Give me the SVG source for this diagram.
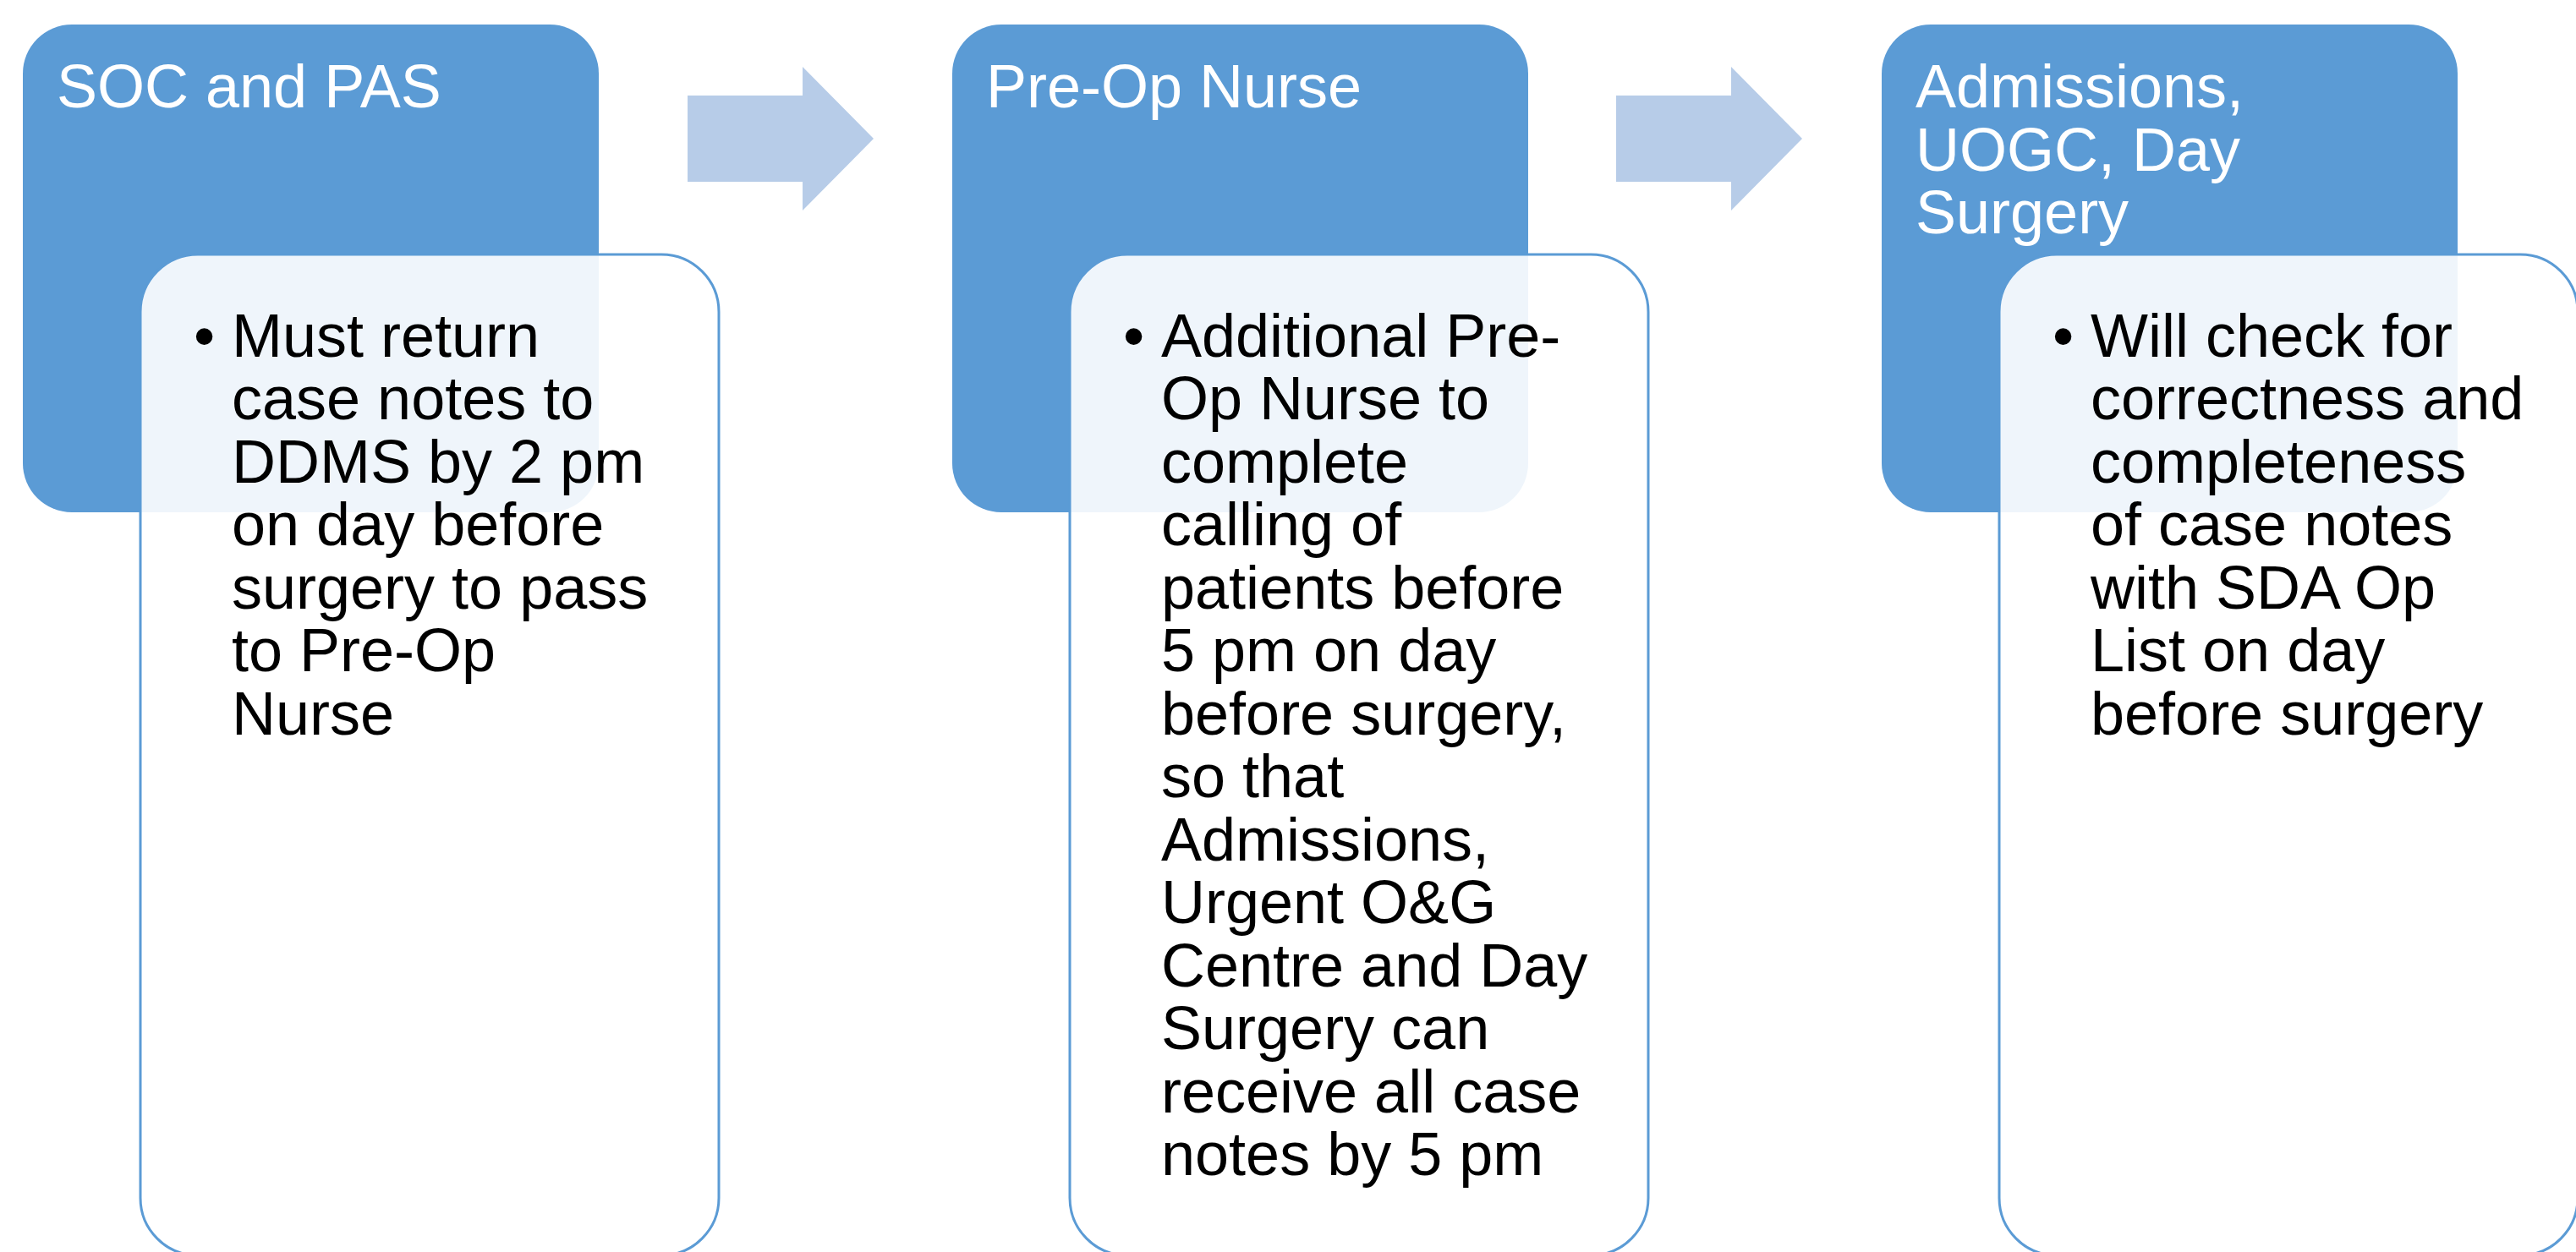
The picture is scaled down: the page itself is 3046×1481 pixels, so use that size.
<svg xmlns="http://www.w3.org/2000/svg" width="3046" height="1481" viewBox="0 0 3046 1481">
<style>
.head{fill:#5B9BD5}
.body{fill:#FFFFFF;fill-opacity:0.9;stroke:#5B9BD5;stroke-width:3}
.arrow{fill:#B7CCE8}
.ht{font-family:"Liberation Sans",Arial,sans-serif;font-size:72px;fill:#FFFFFF}
.bt{font-family:"Liberation Sans",Arial,sans-serif;font-size:72px;fill:#000000}
</style>
<rect width="3046" height="1481" fill="#FFFFFF"/>
<g id="connectors">
<polygon class="arrow" points="813,113 949,113 949,79 1033,164 949,249 949,215 813,215"/>
<polygon class="arrow" points="1911,113 2047,113 2047,79 2131,164 2047,249 2047,215 1911,215"/>
</g>
<g id="node1">
<rect class="head" x="27" y="29" width="681" height="577" rx="58" ry="58"/>
<text class="ht" x="67" y="127">SOC and PAS</text>
</g>
<g id="node1-detail">
<rect class="body" x="166" y="301" width="684" height="1184" rx="68" ry="68"/>
<text class="bt" x="229" y="421.6">•</text>
<text class="bt">
<tspan x="274" y="421.6">Must return</tspan>
<tspan x="274" y="496.1">case notes to</tspan>
<tspan x="274" y="570.6">DDMS by 2 pm</tspan>
<tspan x="274" y="645.1">on day before</tspan>
<tspan x="274" y="719.6">surgery to pass</tspan>
<tspan x="274" y="794.1">to Pre-Op</tspan>
<tspan x="274" y="868.6">Nurse</tspan>
</text>
</g>
<g id="node2">
<rect class="head" x="1126" y="29" width="681" height="577" rx="58" ry="58"/>
<text class="ht" x="1166" y="127">Pre-Op Nurse</text>
</g>
<g id="node2-detail">
<rect class="body" x="1265" y="301" width="684" height="1184" rx="68" ry="68"/>
<text class="bt" x="1328" y="421.6">•</text>
<text class="bt">
<tspan x="1373" y="421.6">Additional Pre-</tspan>
<tspan x="1373" y="496.1">Op Nurse to</tspan>
<tspan x="1373" y="570.6">complete</tspan>
<tspan x="1373" y="645.1">calling of</tspan>
<tspan x="1373" y="719.6">patients before</tspan>
<tspan x="1373" y="794.1">5 pm on day</tspan>
<tspan x="1373" y="868.6">before surgery,</tspan>
<tspan x="1373" y="943.1">so that</tspan>
<tspan x="1373" y="1017.6">Admissions,</tspan>
<tspan x="1373" y="1092.1">Urgent O&amp;G</tspan>
<tspan x="1373" y="1166.6">Centre and Day</tspan>
<tspan x="1373" y="1241.1">Surgery can</tspan>
<tspan x="1373" y="1315.6">receive all case</tspan>
<tspan x="1373" y="1390.1">notes by 5 pm</tspan>
</text>
</g>
<g id="node3">
<rect class="head" x="2225" y="29" width="681" height="577" rx="58" ry="58"/>
<text class="ht">
<tspan x="2265" y="127">Admissions,</tspan>
<tspan x="2265" y="201.5">UOGC, Day</tspan>
<tspan x="2265" y="276">Surgery</tspan>
</text>
</g>
<g id="node3-detail">
<rect class="body" x="2364" y="301" width="684" height="1184" rx="68" ry="68"/>
<text class="bt" x="2427" y="421.6">•</text>
<text class="bt">
<tspan x="2472" y="421.6">Will check for</tspan>
<tspan x="2472" y="496.1">correctness and</tspan>
<tspan x="2472" y="570.6">completeness</tspan>
<tspan x="2472" y="645.1">of case notes</tspan>
<tspan x="2472" y="719.6">with SDA Op</tspan>
<tspan x="2472" y="794.1">List on day</tspan>
<tspan x="2472" y="868.6">before surgery</tspan>
</text>
</g>
</svg>
